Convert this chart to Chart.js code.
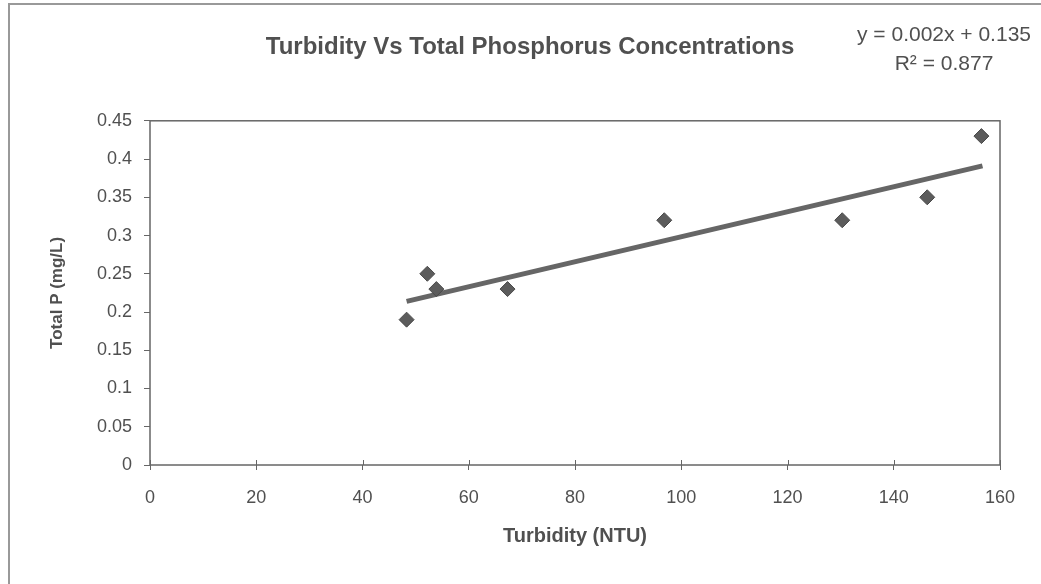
<!DOCTYPE html>
<html>
<head>
<meta charset="utf-8">
<script src="https://cdn.jsdelivr.net/npm/chart.js@4.4.0/dist/chart.umd.min.js"></script>
<style>
  html, body { margin: 0; padding: 0; background: #fff; }
  canvas { display: block; }
</style>
</head>
<body>
<canvas id="turbChart" width="1041" height="584"></canvas>
<script>
// turbidity (NTU) vs total phosphorus (mg/L)
let turbidity = [48.3, 52.2, 53.9, 67.3, 96.8, 130.3, 146.3, 156.5];
let totalP    = [0.19, 0.25, 0.23, 0.23, 0.32, 0.32, 0.35, 0.43];

// ends of the drawn trendline
let trendX = [48.3, 156.7];
let trendY = [0.214, 0.391];

let xTicks = [0, 20, 40, 60, 80, 100, 120, 140, 160];
let yTicks = [0, 0.05, 0.1, 0.15, 0.2, 0.25, 0.3, 0.35, 0.4, 0.45];

let titleText = "Turbidity Vs Total Phosphorus Concentrations";
let eqLines = ["y = 0.002x + 0.135", "R\u00b2 = 0.877"];

const FONT = "'Liberation Sans', Arial, sans-serif";
const INK = "#505050";

// page frame, plot box, crossing x ticks and the equation label
const extras = {
    id: "extras",
    afterDraw(chart) {
        let ctx = chart.ctx;
        let a = chart.chartArea;
        ctx.save();

        ctx.strokeStyle = "#999";
        ctx.lineWidth = 2;
        ctx.beginPath();
        ctx.moveTo(9, 584);
        ctx.lineTo(9, 4);
        ctx.lineTo(1041, 4);
        ctx.stroke();

        ctx.strokeStyle = "#666";
        ctx.lineWidth = 1.5;
        ctx.strokeRect(a.left, a.top, a.right - a.left, a.bottom - a.top);

        let xs = chart.scales.x;
        ctx.lineWidth = 1;
        ctx.beginPath();
        xTicks.forEach(v => {
            let px = Math.round(xs.getPixelForValue(v)) + 0.5;
            ctx.moveTo(px, a.bottom - 5);
            ctx.lineTo(px, a.bottom);
        });
        ctx.stroke();

        ctx.fillStyle = INK;
        ctx.font = "21px " + FONT;
        ctx.textAlign = "center";
        ctx.textBaseline = "middle";
        ctx.fillText(eqLines[0], 944, 35);
        ctx.fillText(eqLines[1], 944, 64);
        ctx.restore();
    }
};

new Chart(document.getElementById("turbChart"), {
    type: "scatter",
    data: {
        datasets: [
            {
                label: "Total P",
                data: turbidity.map((t, i) => ({ x: t, y: totalP[i] })),
                pointStyle: "rectRot",
                pointRadius: 7.5,
                pointHoverRadius: 7.5,
                backgroundColor: "#5c5c5c",
                borderColor: "#4a4a4a",
                borderWidth: 1
            },
            {
                type: "line",
                label: "Trend",
                data: trendX.map((t, i) => ({ x: t, y: trendY[i] })),
                borderColor: "#666",
                borderWidth: 5,
                pointRadius: 0,
                fill: false
            }
        ]
    },
    options: {
        responsive: false,
        animation: false,
        layout: { padding: { left: 60, right: 41, top: 0, bottom: 0 } },
        plugins: {
            legend: { display: false },
            tooltip: { enabled: false },
            title: {
                display: true,
                text: titleText,
                color: INK,
                font: { family: FONT, size: 24, weight: "bold" },
                padding: { top: 33, bottom: 59 }
            }
        },
        scales: {
            x: {
                type: "linear",
                min: 0,
                max: 160,
                afterBuildTicks: s => { s.ticks = xTicks.map(v => ({ value: v })); },
                afterFit: s => { s.height = 119; },
                ticks: { color: INK, font: { family: FONT, size: 18 }, padding: 17 },
                grid: { drawOnChartArea: false, tickLength: 5, color: "#666" },
                border: { display: false },
                title: {
                    display: true,
                    text: "Turbidity (NTU)",
                    color: INK,
                    font: { family: FONT, size: 20, weight: "bold" },
                    padding: { top: 4, bottom: 36 }
                }
            },
            y: {
                min: 0,
                max: 0.45,
                afterBuildTicks: s => { s.ticks = yTicks.map(v => ({ value: v })); },
                afterFit: s => { s.width = 90; },
                ticks: {
                    color: INK,
                    font: { family: FONT, size: 18 },
                    padding: 12,
                    callback: v => String(+v.toFixed(2))
                },
                grid: { drawOnChartArea: false, tickLength: 6, color: "#666" },
                border: { display: false },
                title: {
                    display: true,
                    text: "Total P (mg/L)",
                    color: INK,
                    font: { family: FONT, size: 17, weight: "bold" },
                    padding: { top: -13, bottom: 4 }
                }
            }
        }
    },
    plugins: [extras]
});
</script>
</body>
</html>
